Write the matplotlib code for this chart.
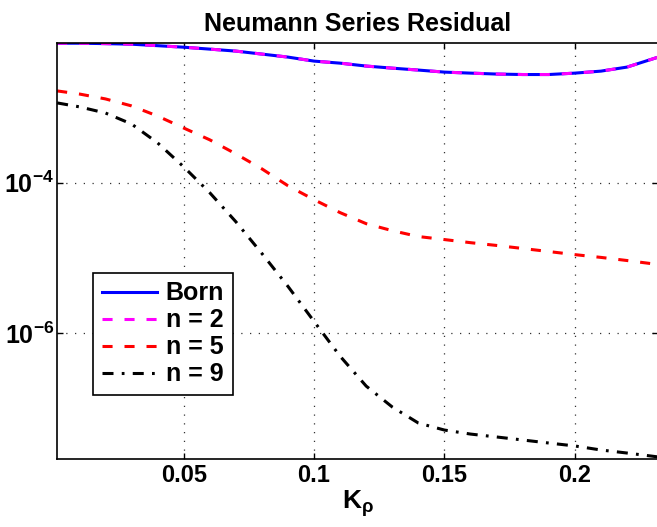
import numpy as np
import matplotlib
matplotlib.use('Agg')
import matplotlib.pyplot as plt
from matplotlib.ticker import FixedLocator, FuncFormatter, NullLocator

# values
k_rho = [0.0015, 0.01, 0.02, 0.03, 0.04, 0.05, 0.06, 0.07, 0.08, 0.09, 0.10, 0.11,
         0.12, 0.13, 0.14, 0.15, 0.16, 0.17, 0.18, 0.19, 0.20, 0.21, 0.22, 0.232]

born = [7.14e-3, 7.14e-3, 7.05e-3, 6.93e-3, 6.62e-3, 6.32e-3, 5.96e-3, 5.61e-3,
        5.12e-3, 4.67e-3, 4.13e-3, 3.88e-3, 3.55e-3, 3.33e-3, 3.14e-3, 2.95e-3,
        2.86e-3, 2.78e-3, 2.74e-3, 2.74e-3, 2.86e-3, 3.04e-3, 3.44e-3, 4.67e-3]
n2 = list(born)
n5 = [1.66e-3, 1.51e-3, 1.30e-3, 1.05e-3, 7.70e-4, 5.34e-4, 3.72e-4, 2.42e-4,
      1.53e-4, 9.12e-5, 5.96e-5, 4.01e-5, 2.86e-5, 2.31e-5, 1.93e-5, 1.76e-5,
      1.60e-5, 1.47e-5, 1.34e-5, 1.22e-5, 1.11e-5, 1.02e-5, 9.27e-6, 8.20e-6]
n9 = [1.15e-3, 1.02e-3, 8.45e-4, 6.04e-4, 3.39e-4, 1.63e-4, 7.38e-5, 3.04e-5,
      1.15e-5, 4.20e-6, 1.44e-6, 4.96e-7, 1.99e-7, 1.05e-7, 6.43e-8, 5.19e-8,
      4.59e-8, 4.20e-8, 3.83e-8, 3.49e-8, 3.19e-8, 2.82e-8, 2.57e-8, 2.28e-8]

xticks = [0.05, 0.1, 0.15, 0.2]
xtick_labels = ['0.05', '0.1', '0.15', '0.2']
yticks = [1e-6, 1e-4]

plt.rcParams['font.family'] = 'Liberation Sans'
plt.rcParams['font.weight'] = 'bold'
plt.rcParams['mathtext.fontset'] = 'custom'
plt.rcParams['mathtext.rm'] = 'Liberation Sans:bold'
plt.rcParams['mathtext.bf'] = 'Liberation Sans:bold'
plt.rcParams['mathtext.it'] = 'Liberation Sans:bold'
plt.rcParams['mathtext.default'] = 'bf'

fig = plt.figure(figsize=(6.57, 5.27), dpi=100)
ax = fig.add_axes([0.087, 0.129, 0.915, 0.789])

lw = 2.2
ax.plot(k_rho, born, color='blue', lw=lw, label='Born')
ax.plot(k_rho, n2, color='magenta', lw=lw, linestyle=(0, (3.3, 3.9)), label='n = 2')
ax.plot(k_rho, n5, color='red', lw=lw, linestyle=(0, (3.3, 3.9)), label='n = 5')
ax.plot(k_rho, n9, color='black', lw=lw, linestyle=(0, (3.6, 2.7, 0.9, 2.7)), label='n = 9')

ax.set_yscale('log')
ax.set_xlim(0.0015, 0.232)
ax.set_ylim(2.14e-8, 7.14e-3)
ax.set_xticks(xticks)
ax.set_xticklabels(xtick_labels)
ax.yaxis.set_major_locator(FixedLocator(yticks))
ax.yaxis.set_minor_locator(NullLocator())
ax.yaxis.set_major_formatter(FuncFormatter(lambda v, p: r'$10^{%d}$' % round(np.log10(v))))

# sparse dotted grid like matlab
ax.grid(True, linestyle=(0, (1, 6)), color='#333333', lw=0.9)
ax.tick_params(direction='in', top=True, right=True, length=4, labelsize=17, width=1)
ax.tick_params(axis='y', labelsize=18, pad=2)
for s in ax.spines.values():
    s.set_linewidth(1.2)

ax.set_title('Neumann Series Residual', fontsize=18, fontweight='bold', pad=9)
ax.set_xlabel(r'K$_\rho$', fontsize=19, fontweight='bold', labelpad=1)

leg = ax.legend(loc='upper left', bbox_to_anchor=(0.06, 0.448), borderaxespad=0,
                fontsize=18, handlelength=2.2, handletextpad=0.35, labelspacing=0.12,
                fancybox=False, edgecolor='black', framealpha=1, borderpad=0.35)
leg.get_frame().set_linewidth(1.2)

fig.savefig('out.png', dpi=100)
